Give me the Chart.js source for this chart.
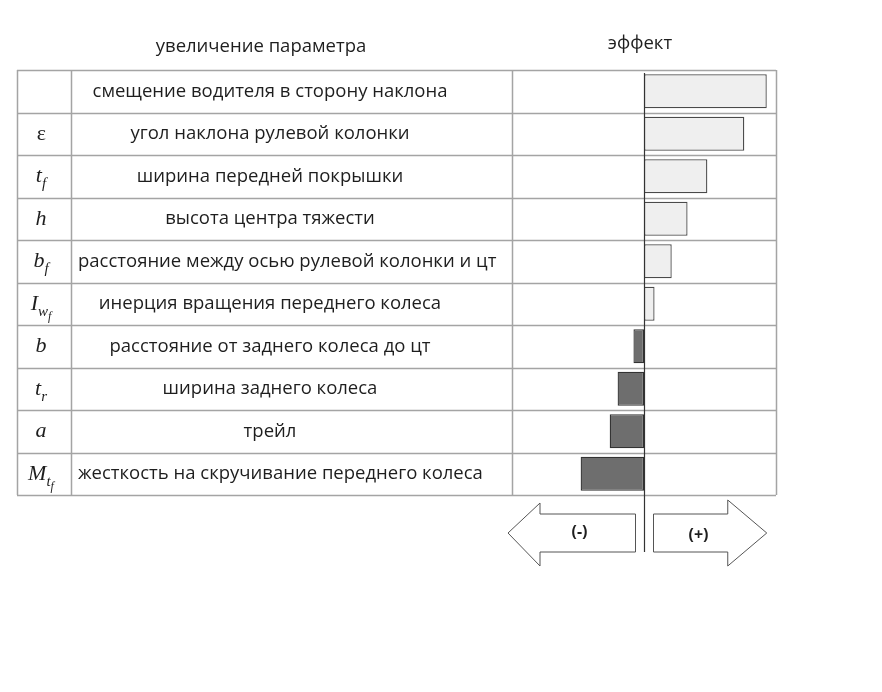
<!DOCTYPE html>
<html>
<head>
<meta charset="utf-8">
<script src="https://cdn.jsdelivr.net/npm/chart.js@4"></script>
<style>
  html, body { margin: 0; padding: 0; background: #fff; }
  canvas { display: block; }
</style>
</head>
<body>
<canvas id="c" width="882" height="692"></canvas>
<script>
// ---- data ----
const categories = [
  'смещение водителя в сторону наклона',
  'угол наклона рулевой колонки',
  'ширина передней покрышки',
  'высота центра тяжести',
  'расстояние между осью рулевой колонки и цт',
  'инерция вращения переднего колеса',
  'расстояние от заднего колеса до цт',
  'ширина заднего колеса',
  'трейл',
  'жесткость на скручивание переднего колеса'
];
// symbol parts: [text, subscript level]
const symbols = [
  [],
  [['ε', 0]],
  [['t', 0], ['f', 1]],
  [['h', 0]],
  [['b', 0], ['f', 1]],
  [['I', 0], ['w', 1], ['f', 2]],
  [['b', 0]],
  [['t', 0], ['r', 1]],
  [['a', 0]],
  [['M', 0], ['t', 1], ['f', 2]]
];
const effects = [0.93, 0.76, 0.48, 0.33, 0.21, 0.08, -0.08, -0.20, -0.26, -0.48];
const headerLeft = 'увеличение параметра';
const headerRight = 'эффект';
const arrowLabels = ['(-)', '(+)'];

// ---- styling ----
const TABLE_LEFT = 17, COL1 = 71;
const LINE = '#a4a4a4';
const TXT = '#1e1e1e';
const SANS = '"Open Sans", "Noto Sans", sans-serif';
const SERIF = '"Liberation Serif", "DejaVu Serif", serif';
const FS = 18.5;

const tablePlugin = {
  id: 'tablePlugin',
  beforeDatasetsDraw(chart) {
    const ctx = chart.ctx;
    const ys = chart.scales.y, xs = chart.scales.x;
    const a = chart.chartArea;
    const n = categories.length;
    ctx.save();
    ctx.strokeStyle = LINE;
    ctx.lineWidth = 1.5;
    for (let i = 0; i <= n; i++) {
      const y = Math.round(ys.getPixelForValue(i - 0.5)) + 0.5;
      ctx.beginPath();
      ctx.moveTo(TABLE_LEFT, y);
      ctx.lineTo(a.right, y);
      ctx.stroke();
    }
    const top = ys.getPixelForValue(-0.5), bot = ys.getPixelForValue(n - 0.5);
    [TABLE_LEFT, COL1, a.left, a.right].forEach(x => {
      ctx.beginPath();
      ctx.moveTo(x + 0.5, top);
      ctx.lineTo(x + 0.5, bot);
      ctx.stroke();
    });

    // headers
    ctx.fillStyle = TXT;
    ctx.textBaseline = 'middle';
    ctx.textAlign = 'center';
    ctx.font = FS + 'px ' + SANS;
    ctx.fillText(headerLeft, 261, top - 23);
    ctx.fillText(headerRight, xs.getPixelForValue(0) - 4, top - 26);

    for (let i = 0; i < n; i++) {
      const y = ys.getPixelForValue(i);
      ctx.font = FS + 'px ' + SANS;
      ctx.textBaseline = 'middle';
      const w = ctx.measureText(categories[i]).width;
      let cx = 270;
      const minLeft = COL1 + 7, maxRight = a.left - 8;
      if (cx - w / 2 < minLeft) cx = minLeft + w / 2;
      if (cx + w / 2 > maxRight) cx = maxRight - w / 2;
      ctx.textAlign = 'center';
      ctx.fillText(categories[i], cx, y);

      const parts = symbols[i];
      if (!parts.length) continue;
      const sizes = [22, 15, 12];
      const drops = [0, 6, 10];
      let total = 0;
      parts.forEach(p => {
        ctx.font = 'italic ' + sizes[p[1]] + 'px ' + SERIF;
        total += ctx.measureText(p[0]).width;
      });
      let x = 41 - total / 2;
      ctx.textAlign = 'left';
      ctx.textBaseline = 'alphabetic';
      parts.forEach(p => {
        ctx.font = (p[0] === 'ε' ? '' : 'italic ') + sizes[p[1]] + 'px ' + SERIF;
        ctx.fillText(p[0], x, y + 6 + drops[p[1]]);
        x += ctx.measureText(p[0]).width;
      });
    }
    ctx.restore();
  },
  afterDatasetsDraw(chart) {
    const ctx = chart.ctx;
    const xs = chart.scales.x, ys = chart.scales.y;
    const x0 = Math.round(xs.getPixelForValue(0)) + 0.5;
    const top = ys.getPixelForValue(-0.5);
    const bot = ys.getPixelForValue(categories.length - 0.5);
    ctx.save();
    ctx.strokeStyle = '#333';
    ctx.lineWidth = 1.2;
    ctx.beginPath();
    ctx.moveTo(x0, top + 3);
    ctx.lineTo(x0, bot + 57);
    ctx.stroke();

    const cy = bot + 38;
    ctx.strokeStyle = '#555';
    ctx.lineWidth = 1;
    ctx.fillStyle = '#fff';
    const lTip = xs.getPixelForValue(-1) - 4, lEnd = x0 - 9;
    ctx.beginPath();
    ctx.moveTo(lEnd, cy - 19);
    ctx.lineTo(lTip + 32, cy - 19);
    ctx.lineTo(lTip + 32, cy - 30);
    ctx.lineTo(lTip, cy);
    ctx.lineTo(lTip + 32, cy + 33);
    ctx.lineTo(lTip + 32, cy + 19);
    ctx.lineTo(lEnd, cy + 19);
    ctx.closePath();
    ctx.fill();
    ctx.stroke();
    const rStart = x0 + 9, rTip = xs.getPixelForValue(0.93);
    ctx.beginPath();
    ctx.moveTo(rStart, cy - 19);
    ctx.lineTo(rTip - 39, cy - 19);
    ctx.lineTo(rTip - 39, cy - 33);
    ctx.lineTo(rTip, cy);
    ctx.lineTo(rTip - 39, cy + 33);
    ctx.lineTo(rTip - 39, cy + 19);
    ctx.lineTo(rStart, cy + 19);
    ctx.closePath();
    ctx.fill();
    ctx.stroke();

    ctx.fillStyle = TXT;
    ctx.font = 'bold 16px ' + SANS;
    ctx.textAlign = 'center';
    ctx.textBaseline = 'middle';
    ctx.fillText(arrowLabels[0], x0 - 65, cy - 1);
    ctx.fillText(arrowLabels[1], x0 + 54, cy + 2);
    ctx.restore();
  }
};

new Chart(document.getElementById('c'), {
  type: 'bar',
  data: {
    labels: categories,
    datasets: [{
      data: effects,
      backgroundColor: effects.map(v => v >= 0 ? '#efefef' : '#6e6e6e'),
      borderColor: effects.map(v => v >= 0 ? '#4a4a4a' : '#333333'),
      borderWidth: 1.3,
      borderSkipped: false,
      barPercentage: 0.8,
      categoryPercentage: 1.0
    }]
  },
  options: {
    indexAxis: 'y',
    responsive: false,
    animation: false,
    layout: { padding: { left: 512, right: 106, top: 70, bottom: 197 } },
    plugins: { legend: { display: false }, tooltip: { enabled: false } },
    scales: {
      x: { display: false, min: -1, max: 1 },
      y: { display: false }
    }
  },
  plugins: [tablePlugin]
});
</script>
</body>
</html>
